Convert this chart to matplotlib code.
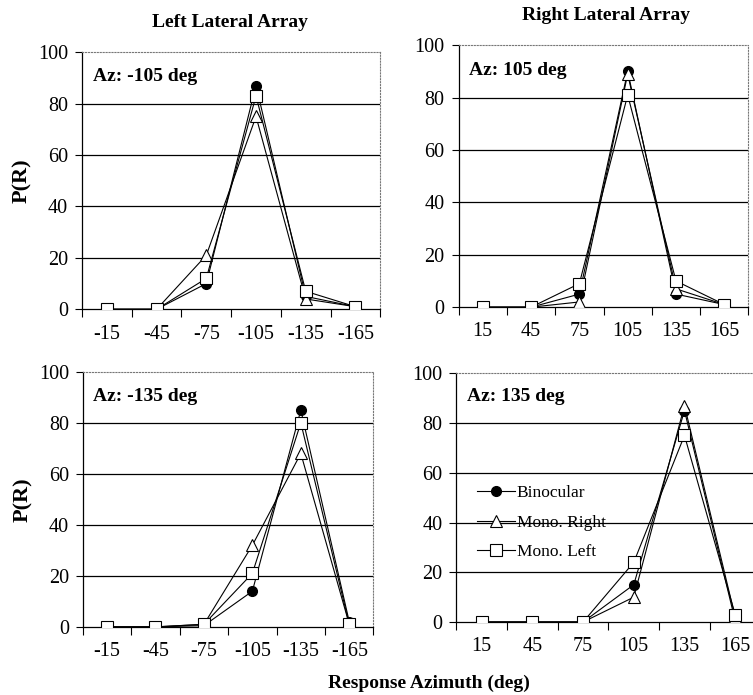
import matplotlib
matplotlib.use('Agg')
import matplotlib.pyplot as plt

plt.rcParams['font.family'] = ['Liberation Serif', 'DejaVu Serif']

# response azimuth categories
left_labels = ["-15", "-45", "-75", "-105", "-135", "-165"]
right_labels = ["15", "45", "75", "105", "135", "165"]

# P(R) per panel: binocular, mono right, mono left
tl_bin = [0, 0, 10, 87, 5, 1]
tl_right = [0, 0, 21, 75, 4, 1]
tl_left = [0, 0, 12, 83, 7, 1]

tr_bin = [0, 0, 5, 90, 5, 1]
tr_right = [0, 0, 2, 89, 7, 1]
tr_left = [0, 0, 9, 81, 10, 1]

bl_bin = [0, 0, 0.5, 14, 85, 2]
bl_right = [0, 0, 1, 32, 68, 1]
bl_left = [0, 0, 1, 21, 80, 1]

br_bin = [0, 0, 0, 15, 85, 0.5]
br_right = [0, 0, 0, 10, 87, 2]
br_left = [0, 0, 0, 24, 75, 3]

fig = plt.figure(figsize=(7.53, 6.95), dpi=100)

panels = [
    ([0.109, 0.555, 0.396, 0.370], left_labels, "Az: -105 deg", tl_bin, tl_right, tl_left),
    ([0.609, 0.558, 0.385, 0.377], right_labels, "Az: 105 deg", tr_bin, tr_right, tr_left),
    ([0.110, 0.098, 0.386, 0.367], left_labels, "Az: -135 deg", bl_bin, bl_right, bl_left),
    ([0.606, 0.105, 0.404, 0.358], right_labels, "Az: 135 deg", br_bin, br_right, br_left),
]

axes = []
for rect, labels, az, b, r, l in panels:
    ax = fig.add_axes(rect)
    xs = [i + 0.5 for i in range(len(labels))]
    ax.plot(xs, b, '-', color='black', lw=0.8, marker='o', ms=7,
            mfc='black', mec='black', label='Binocular', zorder=3)
    ax.plot(xs, r, '-', color='black', lw=0.8, marker='^', ms=8,
            mfc='white', mec='black', mew=0.8, label='Mono. Right', zorder=4)
    ax.plot(xs, l, '-', color='black', lw=0.8, marker='s', ms=8,
            mfc='white', mec='black', mew=0.8, label='Mono. Left', zorder=5)
    ax.set_xlim(0, 6)
    ax.set_ylim(0, 100)
    ax.set_xticks(range(7))
    ax.set_xticklabels([])
    ax.set_xticks(xs, minor=True)
    ax.set_xticklabels(labels, minor=True, fontsize=14.5)
    ax.tick_params(axis='x', which='minor', length=0, pad=11)
    ax.tick_params(axis='x', which='major', length=6, width=0.8, direction='out')
    ax.set_yticks(range(0, 101, 20))
    ax.tick_params(axis='y', labelsize=14.5, length=5, width=0.8, pad=5)
    for yv in range(20, 100, 20):
        ax.axhline(yv, color='black', lw=0.9, zorder=1)
    for s in ['top', 'right']:
        ax.spines[s].set_linestyle(':')
        ax.spines[s].set_color('#777777')
        ax.spines[s].set_linewidth(0.8)
    for s in ['left', 'bottom']:
        ax.spines[s].set_linewidth(0.9)
    ax.text(0.035, 0.905, az, transform=ax.transAxes, fontsize=14,
            fontweight='bold', va='center', ha='left')
    axes.append(ax)

axes[0].set_ylabel("P(R)", fontsize=16, fontweight='bold', labelpad=4)
axes[2].set_ylabel("P(R)", fontsize=16, fontweight='bold', labelpad=4)

axes[3].legend(loc='center left', bbox_to_anchor=(0.045, 0.40), frameon=False,
               fontsize=12.5, handlelength=2.2, handletextpad=0.1,
               labelspacing=0.75, borderaxespad=0)

fig.text(0.305, 0.968, "Left Lateral Array", fontsize=14, fontweight='bold',
         ha='center', va='center')
fig.text(0.805, 0.978, "Right Lateral Array", fontsize=14, fontweight='bold',
         ha='center', va='center')
fig.text(0.569, 0.017, "Response Azimuth (deg)", fontsize=14, fontweight='bold',
         ha='center', va='center')

fig.savefig("out.png", dpi=100)
